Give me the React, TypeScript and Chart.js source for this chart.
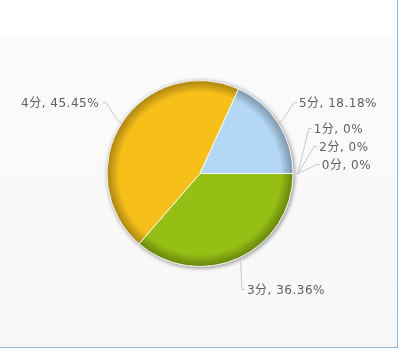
import React, { useEffect, useRef } from "react";
import { Chart, registerables } from "chart.js";

Chart.register(...registerables);

// Score buckets in the order the survey query returns them
const categories = ["3分", "4分", "5分", "1分", "2分", "0分"];
const counts = [4, 5, 2, 0, 0, 0];
const sliceColors = ["#95bf14", "#f6bf1a", "#b3d7f5", "#7cb5ec", "#8085e9", "#f15c80"];

const FONT = '12px "DejaVu Sans", "Noto Sans CJK SC", sans-serif';
const TEXT_COLOR = "#606060";
const LINE_COLOR = "#c8c8c8";

const total = counts.reduce((a, b) => a + b, 0);
const percentText = (v: number) => `${Math.round((v / total) * 10000) / 100}%`;

function shade(hex: string, f: number): string {
  const n = parseInt(hex.slice(1), 16);
  const r = Math.round(((n >> 16) & 255) * f);
  const g = Math.round(((n >> 8) & 255) * f);
  const b = Math.round((n & 255) * f);
  return `rgb(${r},${g},${b})`;
}

function pieGeometry(chart: any) {
  const a = chart.chartArea;
  const cx = (a.left + a.right) / 2;
  const cy = (a.top + a.bottom) / 2;
  const r = (Math.min(a.right - a.left, a.bottom - a.top) - 1) / 2;
  return { cx, cy, r };
}

// Page background, frame lines and the pie's drop shadow
const framePlugin = {
  id: "frame",
  beforeDraw(chart: any) {
    const { ctx, width, height } = chart;
    ctx.save();
    ctx.fillStyle = "#ffffff";
    ctx.fillRect(0, 0, width, height);
    const g = ctx.createLinearGradient(0, 38, 0, 347);
    g.addColorStop(0, "#fbfbfb");
    g.addColorStop(1, "#f7f7f7");
    ctx.fillStyle = g;
    ctx.fillRect(0, 38, 397, 309);
    ctx.fillStyle = "#93b7d6";
    ctx.fillRect(397, 0, 1, 348);
    ctx.fillRect(0, 347, 398, 1);
    ctx.restore();
  },
  beforeDatasetsDraw(chart: any) {
    const { ctx } = chart;
    const { cx, cy, r } = pieGeometry(chart);
    ctx.save();
    ctx.shadowColor = "rgba(0,0,0,0.45)";
    ctx.shadowBlur = 4;
    ctx.shadowOffsetX = 1;
    ctx.shadowOffsetY = 1;
    ctx.beginPath();
    ctx.arc(cx, cy, r + 0.5, 0, Math.PI * 2);
    ctx.fillStyle = "#e6e6e6";
    ctx.fill();
    ctx.restore();
  },
};

// Outside labels with connector lines
const labelPlugin = {
  id: "outsideLabels",
  afterDatasetsDraw(chart: any) {
    const { ctx } = chart;
    const meta = chart.getDatasetMeta(0);
    const { cx, cy, r } = pieGeometry(chart);
    const lineH = 18;
    const ry = r + 36;
    const rx = r + 24;

    const items = meta.data.map((arc: any, i: number) => {
      const p = arc.getProps(["startAngle", "endAngle"], true);
      const mid = (p.startAngle + p.endAngle) / 2;
      const cos = Math.cos(mid);
      const sin = Math.sin(mid);
      return {
        i,
        cos,
        sin,
        right: cos >= -1e-9,
        natY: cy + ry * sin,
        y: cy + ry * sin,
        text: `${categories[i]}, ${percentText(counts[i])}`,
      };
    });

    for (const side of [true, false]) {
      const list = items.filter((it: any) => it.right === side);
      // labels sharing one anchor are stacked upward above it
      const groups = new Map<number, any[]>();
      list.forEach((it: any) => {
        const key = Math.round(it.natY);
        if (!groups.has(key)) groups.set(key, []);
        groups.get(key)!.push(it);
      });
      groups.forEach((g) => {
        if (g.length < 2) return;
        g.forEach((it, k) => {
          it.y = it.natY - lineH * 0.4 - (g.length - 1 - k) * lineH;
        });
      });
      const sorted = list.slice().sort((a: any, b: any) => a.y - b.y);
      for (let k = sorted.length - 2; k >= 0; k--) {
        if (sorted[k].y > sorted[k + 1].y - lineH) sorted[k].y = sorted[k + 1].y - lineH;
      }
    }

    ctx.save();
    ctx.font = FONT;
    ctx.textBaseline = "middle";
    ctx.lineWidth = 1;
    ctx.strokeStyle = LINE_COLOR;
    items.forEach((it: any) => {
      const dy = it.y - cy;
      const dx = Math.max(Math.sqrt(Math.max(rx * rx - dy * dy, 0)), (r + 8) * Math.abs(it.cos));
      const dir = it.right ? 1 : -1;
      const x = cx + dir * dx;
      const ly = Math.round(it.y) - 1.5;
      ctx.beginPath();
      ctx.moveTo(x + dir * 3, ly);
      ctx.lineTo(x, ly);
      ctx.lineTo(cx + (r + 5) * it.cos, cy + (r + 5) * it.sin);
      ctx.lineTo(cx + r * it.cos, cy + r * it.sin);
      ctx.stroke();
      ctx.fillStyle = TEXT_COLOR;
      (ctx as any).letterSpacing = "0.5px";
      ctx.textAlign = it.right ? "left" : "right";
      ctx.fillText(it.text, x + dir * (it.right ? 5 : 7), it.y);
      (ctx as any).letterSpacing = "0px";
    });
    ctx.restore();
  },
};

export default function App() {
  const canvasRef = useRef<HTMLCanvasElement | null>(null);

  useEffect(() => {
    const canvas = canvasRef.current;
    if (!canvas) return;
    const chart = new Chart(canvas, {
      type: "pie",
      data: {
        labels: categories,
        datasets: [
          {
            data: counts,
            backgroundColor: (c: any) => {
              const base = sliceColors[c.dataIndex] || "#cccccc";
              const chart = c.chart;
              if (!chart.chartArea) return base;
              const { cx, cy, r } = pieGeometry(chart);
              const g = chart.ctx.createRadialGradient(cx, cy, 0, cx, cy, r);
              g.addColorStop(0, base);
              g.addColorStop(0.87, base);
              g.addColorStop(0.97, shade(base, 0.76));
              g.addColorStop(1, shade(base, 0.7));
              return g;
            },
            borderColor: "rgba(255,255,255,0.85)",
            borderWidth: (c: any) => (counts[c.dataIndex] > 0 ? 1 : 0),
          },
        ],
      },
      options: {
        animation: false,
        responsive: false,
        devicePixelRatio: 1,
        rotation: 90,
        layout: { padding: { left: 106.5, right: 106.5, top: 80, bottom: 82 } },
        plugins: {
          legend: { display: false },
          tooltip: { enabled: false },
          title: { display: false },
        },
      },
      plugins: [framePlugin, labelPlugin],
    });
    return () => chart.destroy();
  }, []);

  return (
    <div style={{ position: "fixed", left: 0, top: 0, width: 400, height: 349, background: "#ffffff" }}>
      <canvas ref={canvasRef} width={400} height={349} style={{ display: "block", width: 400, height: 349 }} />
    </div>
  );
}
